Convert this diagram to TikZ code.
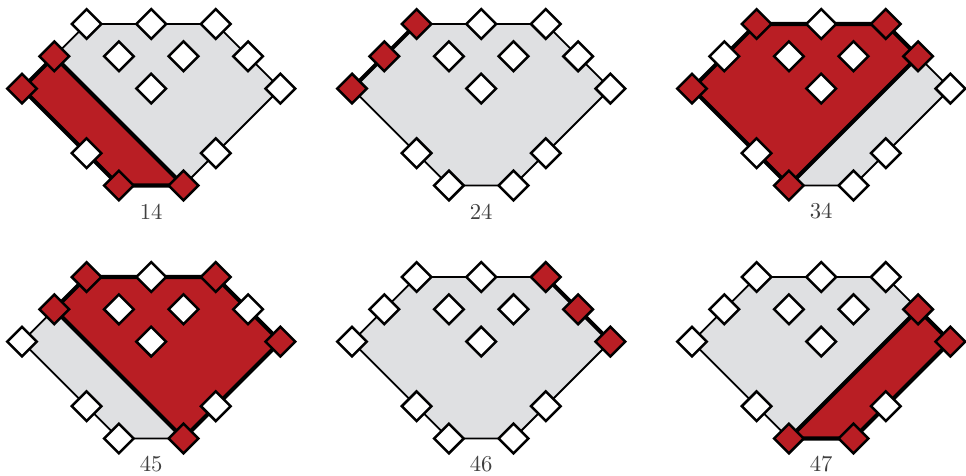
\documentclass[tikz,border=0pt]{standalone}
\usepackage{tikz}
\usetikzlibrary{shapes.geometric}

\definecolor{cardinal}{RGB}{185,30,36}
\definecolor{paper}{RGB}{223,224,226}

% lattice sites of one panel
\newcommand{\sitelist}{a/{2,0}, b/{4,0}, c/{6,0}, d/{1,1}, e/{3,1}, f/{5,1}, g/{7,1},
  h/{0,2}, i/{4,2}, j/{8,2}, k/{2,4}, l/{6,4}, m/{3,5}, n/{5,5}}

% #1 label, #2 origin, #3 red part, #4 red sites, #5 white sites
\newcommand{\hexpanel}[5]{%
  \begin{scope}[shift={#2}]
    \foreach \s/\p in \sitelist {\coordinate (#1-\s) at (\p);}
    \draw[hex] (#1-a) -- (#1-c) -- (#1-j) -- (#1-n) -- (#1-m) -- (#1-h) -- cycle;
    #3
    \foreach \s in {#4} {\node[site, fill=cardinal] (#1\s) at (#1-\s) {};}
    \foreach \s in {#5} {\node[site] (#1\s) at (#1-\s) {};}
    \node[lbl] (lbl#1) at (4,5.8) {#1};
  \end{scope}}

\begin{document}
\begin{tikzpicture}[
        x=0.5cm, y=-0.5cm,
        hex/.style={draw, fill=paper, line width=0.8pt, line join=round},
        redpart/.style={draw, fill=cardinal, line width=1.8pt, line join=round},
        cut/.style={draw, line width=1.8pt, line cap=round},
        site/.style={diamond, draw, fill=white, line width=1.1pt, aspect=1, inner sep=0pt,
          minimum width=0.475cm, minimum height=0.475cm},
        lbl/.style={text=black!75, font=\normalsize}
    ]
        \useasboundingbox (0,0) rectangle (29.907,14.706);

        \hexpanel{14}{(0.681,0.743)}
          {\draw[redpart] (14-d) -- (14-n) -- (14-m) -- (14-h) -- cycle;}
          {d,h,m,n}{a,b,c,e,f,g,i,j,k,l}
        \hexpanel{24}{(10.898,0.743)}
          {\draw[cut] (24-h) -- (24-d) -- (24-a);}
          {a,d,h}{b,c,e,f,g,i,j,k,l,m,n}
        \hexpanel{34}{(21.424,0.743)}
          {\draw[redpart] (34-h) -- (34-a) -- (34-c) -- (34-g) -- (34-m) -- cycle;}
          {a,c,g,h,m}{b,d,e,f,i,j,k,l,n}

        \hexpanel{45}{(0.681,8.576)}
          {\draw[redpart] (45-d) -- (45-a) -- (45-c) -- (45-j) -- (45-n) -- cycle;}
          {a,c,d,j,n}{b,e,f,g,h,i,k,l,m}
        \hexpanel{46}{(10.898,8.576)}
          {\draw[cut] (46-c) -- (46-g) -- (46-j);}
          {c,g,j}{a,b,d,e,f,h,i,k,l,m,n}
        \hexpanel{47}{(21.424,8.576)}
          {\draw[redpart] (47-g) -- (47-j) -- (47-n) -- (47-m) -- cycle;}
          {g,j,m,n}{a,b,c,d,e,f,h,i,k,l}
    \end{tikzpicture}
\end{document}
